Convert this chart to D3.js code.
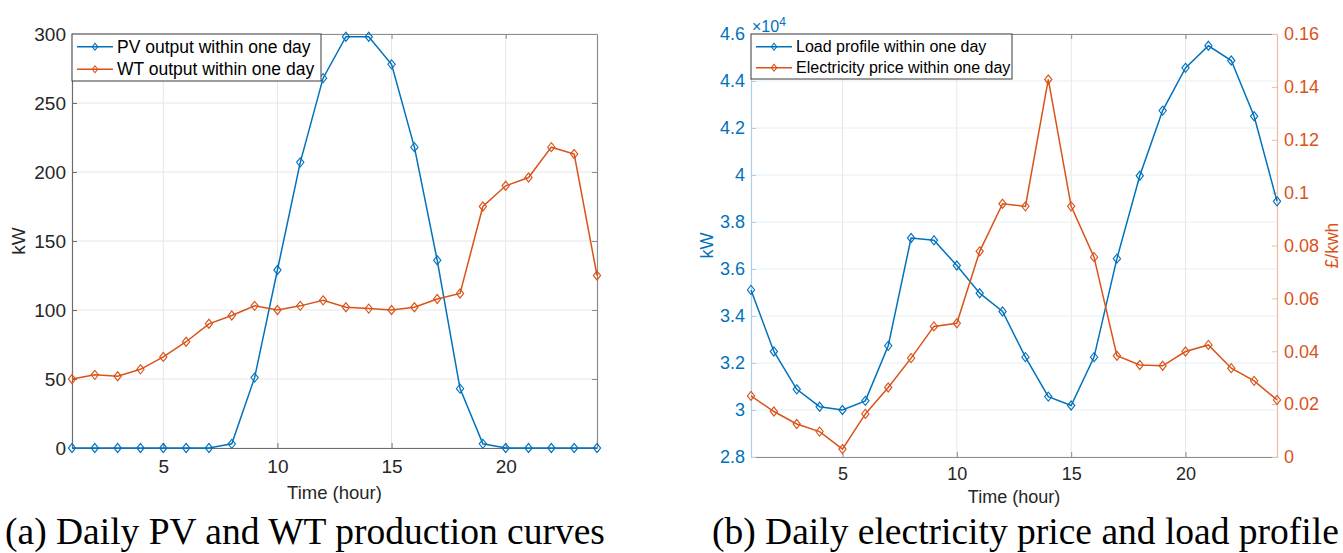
<!DOCTYPE html>
<html>
<head>
<meta charset="utf-8">
<script src="https://cdn.jsdelivr.net/npm/d3@7"></script>
<style>
  body { margin: 0; background: #fff; }
  text { font-family: "Liberation Sans", Arial, Helvetica, sans-serif; }
</style>
</head>
<body>
<svg id="fig" width="1343" height="553"></svg>
<script>
// ---- data ----
const hours = [1, 2, 3, 4, 5, 6, 7, 8, 9, 10, 11, 12, 13, 14, 15, 16, 17, 18, 19, 20, 21, 22, 23, 24];

// (a) kW
const pvOutput = [0, 0, 0, 0, 0, 0, 0, 3, 51, 129, 207, 268, 298, 298, 278, 218, 136, 43, 3, 0, 0, 0, 0, 0];
const wtOutput = [50, 53, 52, 57, 66, 77, 90, 96, 103, 100, 103, 107, 102, 101, 100, 102, 108, 112, 175, 190, 196, 218, 213, 125];

// (b) load in kW, price in £/kwh
const loadProfile = [35110, 32490, 30880, 30140, 30000, 30390, 32730, 37320, 37220, 36150, 34970, 34190,
                     32250, 30570, 30190, 32250, 36440, 39970, 42740, 44560, 45500, 44870, 42500, 38880];
const elecPrice = [0.0231, 0.0172, 0.0125, 0.0096, 0.0030, 0.0163, 0.0263, 0.0374, 0.0494, 0.0506, 0.0778, 0.0958,
                   0.0948, 0.1428, 0.0948, 0.0756, 0.0383, 0.0348, 0.0345, 0.0399, 0.0424, 0.0336, 0.0288, 0.0216];

const hourTicks = [5, 10, 15, 20];
const kwTicks = [0, 50, 100, 150, 200, 250, 300];
const loadTicks = [28000, 30000, 32000, 34000, 36000, 38000, 40000, 42000, 44000, 46000];
const priceTicks = [0, 0.02, 0.04, 0.06, 0.08, 0.1, 0.12, 0.14, 0.16];

const legendA = ["PV output within one day", "WT output within one day"];
const legendB = ["Load profile within one day", "Electricity price within one day"];

const blue = "#0072BD";
const orange = "#D95319";
const ink = "#262626";
const gridColor = "#e6e6e6";

const svg = d3.select("#fig");

const diamond = d3.symbol(d3.symbolDiamond2, 52);

function series(g, x, y, values, color) {
  const pts = hours.map((h, i) => ({ h: h, v: values[i] }));
  const line = d3.line().x(d => x(d.h)).y(d => y(d.v));
  g.append("path")
    .attr("d", line(pts))
    .attr("fill", "none")
    .attr("stroke", color)
    .attr("stroke-width", 1.5);
  g.selectAll(null)
    .data(pts)
    .join("path")
    .attr("d", diamond)
    .attr("transform", d => `translate(${x(d.h)},${y(d.v)}) scale(0.8,1)`)
    .attr("fill", "none")
    .attr("stroke", color)
    .attr("stroke-width", 1.3);
}

function styleAxis(g, lineColor, textColor, size) {
  g.select(".domain").attr("stroke", lineColor).attr("stroke-width", 1.2);
  g.selectAll(".tick line").attr("stroke", lineColor);
  g.selectAll(".tick text").attr("fill", textColor).style("font-size", size + "px");
}

function legend(g, x0, x1, y0, y1, rows, labels, colors, size) {
  g.append("rect")
    .attr("x", x0).attr("y", y0)
    .attr("width", x1 - x0).attr("height", y1 - y0)
    .attr("fill", "#fff").attr("stroke", "#3a3a3a").attr("stroke-width", 1);
  labels.forEach((lab, i) => {
    const yy = rows[i];
    g.append("line")
      .attr("x1", x0 + 5).attr("x2", x0 + 41)
      .attr("y1", yy).attr("y2", yy)
      .attr("stroke", colors[i]).attr("stroke-width", 1.5);
    g.append("path")
      .attr("d", d3.symbol(d3.symbolDiamond2, 30))
      .attr("transform", `translate(${x0 + 23},${yy}) scale(0.8,1)`)
      .attr("fill", "none").attr("stroke", colors[i]).attr("stroke-width", 1.2);
    g.append("text")
      .attr("x", x0 + 45).attr("y", yy).attr("dy", "0.35em")
      .attr("fill", "#000")
      .style("font-size", size + "px")
      .text(lab);
  });
}

// ================= (a) =================
(function () {
  const L = 72, R = 597, T = 34, B = 448;
  const x = d3.scaleLinear().domain([1, 24]).range([L, R]);
  const y = d3.scaleLinear().domain([0, 300]).range([B, T]);
  const g = svg.append("g");

  // grid
  g.selectAll(null).data(hourTicks).join("line")
    .attr("x1", d => x(d)).attr("x2", d => x(d)).attr("y1", T).attr("y2", B)
    .attr("stroke", gridColor);
  g.selectAll(null).data(kwTicks).join("line")
    .attr("x1", L).attr("x2", R).attr("y1", d => y(d)).attr("y2", d => y(d))
    .attr("stroke", gridColor);

  // box mirror axes
  const top = g.append("g").attr("transform", `translate(0,${T})`)
    .call(d3.axisTop(x).tickValues(hourTicks).tickSize(-5).tickSizeOuter(0).tickFormat(""));
  styleAxis(top, "#8c8c8c", ink, 19);
  const right = g.append("g").attr("transform", `translate(${R},0)`)
    .call(d3.axisRight(y).tickValues(kwTicks).tickSize(-5).tickSizeOuter(0).tickFormat(""));
  styleAxis(right, "#8c8c8c", ink, 19);

  const bottom = g.append("g").attr("transform", `translate(0,${B})`)
    .call(d3.axisBottom(x).tickValues(hourTicks).tickSize(-5).tickSizeOuter(0).tickPadding(12));
  styleAxis(bottom, "#6e6e6e", ink, 19);
  const left = g.append("g").attr("transform", `translate(${L},0)`)
    .call(d3.axisLeft(y).tickValues(kwTicks).tickSize(-5).tickSizeOuter(0).tickPadding(6));
  styleAxis(left, "#6e6e6e", ink, 19);

  series(g, x, y, pvOutput, blue);
  series(g, x, y, wtOutput, orange);

  g.append("text").attr("x", (L + R) / 2).attr("y", 499)
    .attr("text-anchor", "middle").attr("fill", ink).style("font-size", "18.5px")
    .text("Time (hour)");
  g.append("text").attr("transform", `translate(25,${(T + B) / 2}) rotate(-90)`)
    .attr("text-anchor", "middle").attr("fill", ink).style("font-size", "19px")
    .text("kW");

  legend(g, L, 321, T, 81, [46.7, 69.3], legendA, [blue, orange], 17.5);

  svg.append("text").attr("x", 5).attr("y", 544)
    .style("font-family", "'Liberation Serif', 'Times New Roman', serif")
    .style("font-size", "37.5px").attr("fill", "#000")
    .text("(a) Daily PV and WT production curves");
})();

// ================= (b) =================
(function () {
  const L = 751, R = 1277, T = 34, B = 457;
  const x = d3.scaleLinear().domain([1, 24]).range([L, R]);
  const yL = d3.scaleLinear().domain([28000, 46000]).range([B, T]);
  const yR = d3.scaleLinear().domain([0, 0.16]).range([B, T]);
  const g = svg.append("g");

  g.selectAll(null).data(hourTicks).join("line")
    .attr("x1", d => x(d)).attr("x2", d => x(d)).attr("y1", T).attr("y2", B)
    .attr("stroke", gridColor);
  g.selectAll(null).data(loadTicks).join("line")
    .attr("x1", L).attr("x2", R).attr("y1", d => yL(d)).attr("y2", d => yL(d))
    .attr("stroke", "#e4eef5");

  const top = g.append("g").attr("transform", `translate(0,${T})`)
    .call(d3.axisTop(x).tickValues(hourTicks).tickSize(-5).tickSizeOuter(0).tickFormat(""));
  styleAxis(top, "#8c8c8c", ink, 18);
  const bottom = g.append("g").attr("transform", `translate(0,${B})`)
    .call(d3.axisBottom(x).tickValues(hourTicks).tickSize(-5).tickSizeOuter(0).tickPadding(10.5));
  styleAxis(bottom, "#8c8c8c", ink, 18);

  const left = g.append("g").attr("transform", `translate(${L},0)`)
    .call(d3.axisLeft(yL).tickValues(loadTicks).tickSize(-5).tickSizeOuter(0).tickPadding(6)
      .tickFormat(d => String(+(d / 1e4).toFixed(1))));
  styleAxis(left, "#a9cfec", blue, 18);
  const right = g.append("g").attr("transform", `translate(${R},0)`)
    .call(d3.axisRight(yR).tickValues(priceTicks).tickSize(-5).tickSizeOuter(0).tickPadding(7)
      .tickFormat(d => String(+d.toFixed(2))));
  styleAxis(right, "#f3b9a1", orange, 18);

  series(g, x, yL, loadProfile, blue);
  series(g, x, yR, elecPrice, orange);

  const expo = g.append("text").attr("x", L + 1).attr("y", 31.5)
    .attr("fill", blue).style("font-size", "16px");
  expo.append("tspan").text("\u00d710");
  expo.append("tspan").attr("dy", -6).style("font-size", "12px").text("4");

  g.append("text").attr("x", (L + R) / 2).attr("y", 503)
    .attr("text-anchor", "middle").attr("fill", ink).style("font-size", "18px")
    .text("Time (hour)");
  g.append("text").attr("transform", `translate(713,${(T + B) / 2}) rotate(-90)`)
    .attr("text-anchor", "middle").attr("fill", blue).style("font-size", "18px")
    .text("kW");
  g.append("text").attr("transform", `translate(1338,${(T + B) / 2}) rotate(-90)`)
    .attr("text-anchor", "middle").attr("fill", orange).style("font-size", "17.5px")
    .text("\u00a3/kwh");

  legend(g, L, 1012, T, 79, [46.7, 67.7], legendB, [blue, orange], 16);

  svg.append("text").attr("x", 712).attr("y", 544)
    .style("font-family", "'Liberation Serif', 'Times New Roman', serif")
    .style("font-size", "37.5px").attr("fill", "#000")
    .text("(b) Daily electricity price and load profile");
})();
</script>
</body>
</html>
